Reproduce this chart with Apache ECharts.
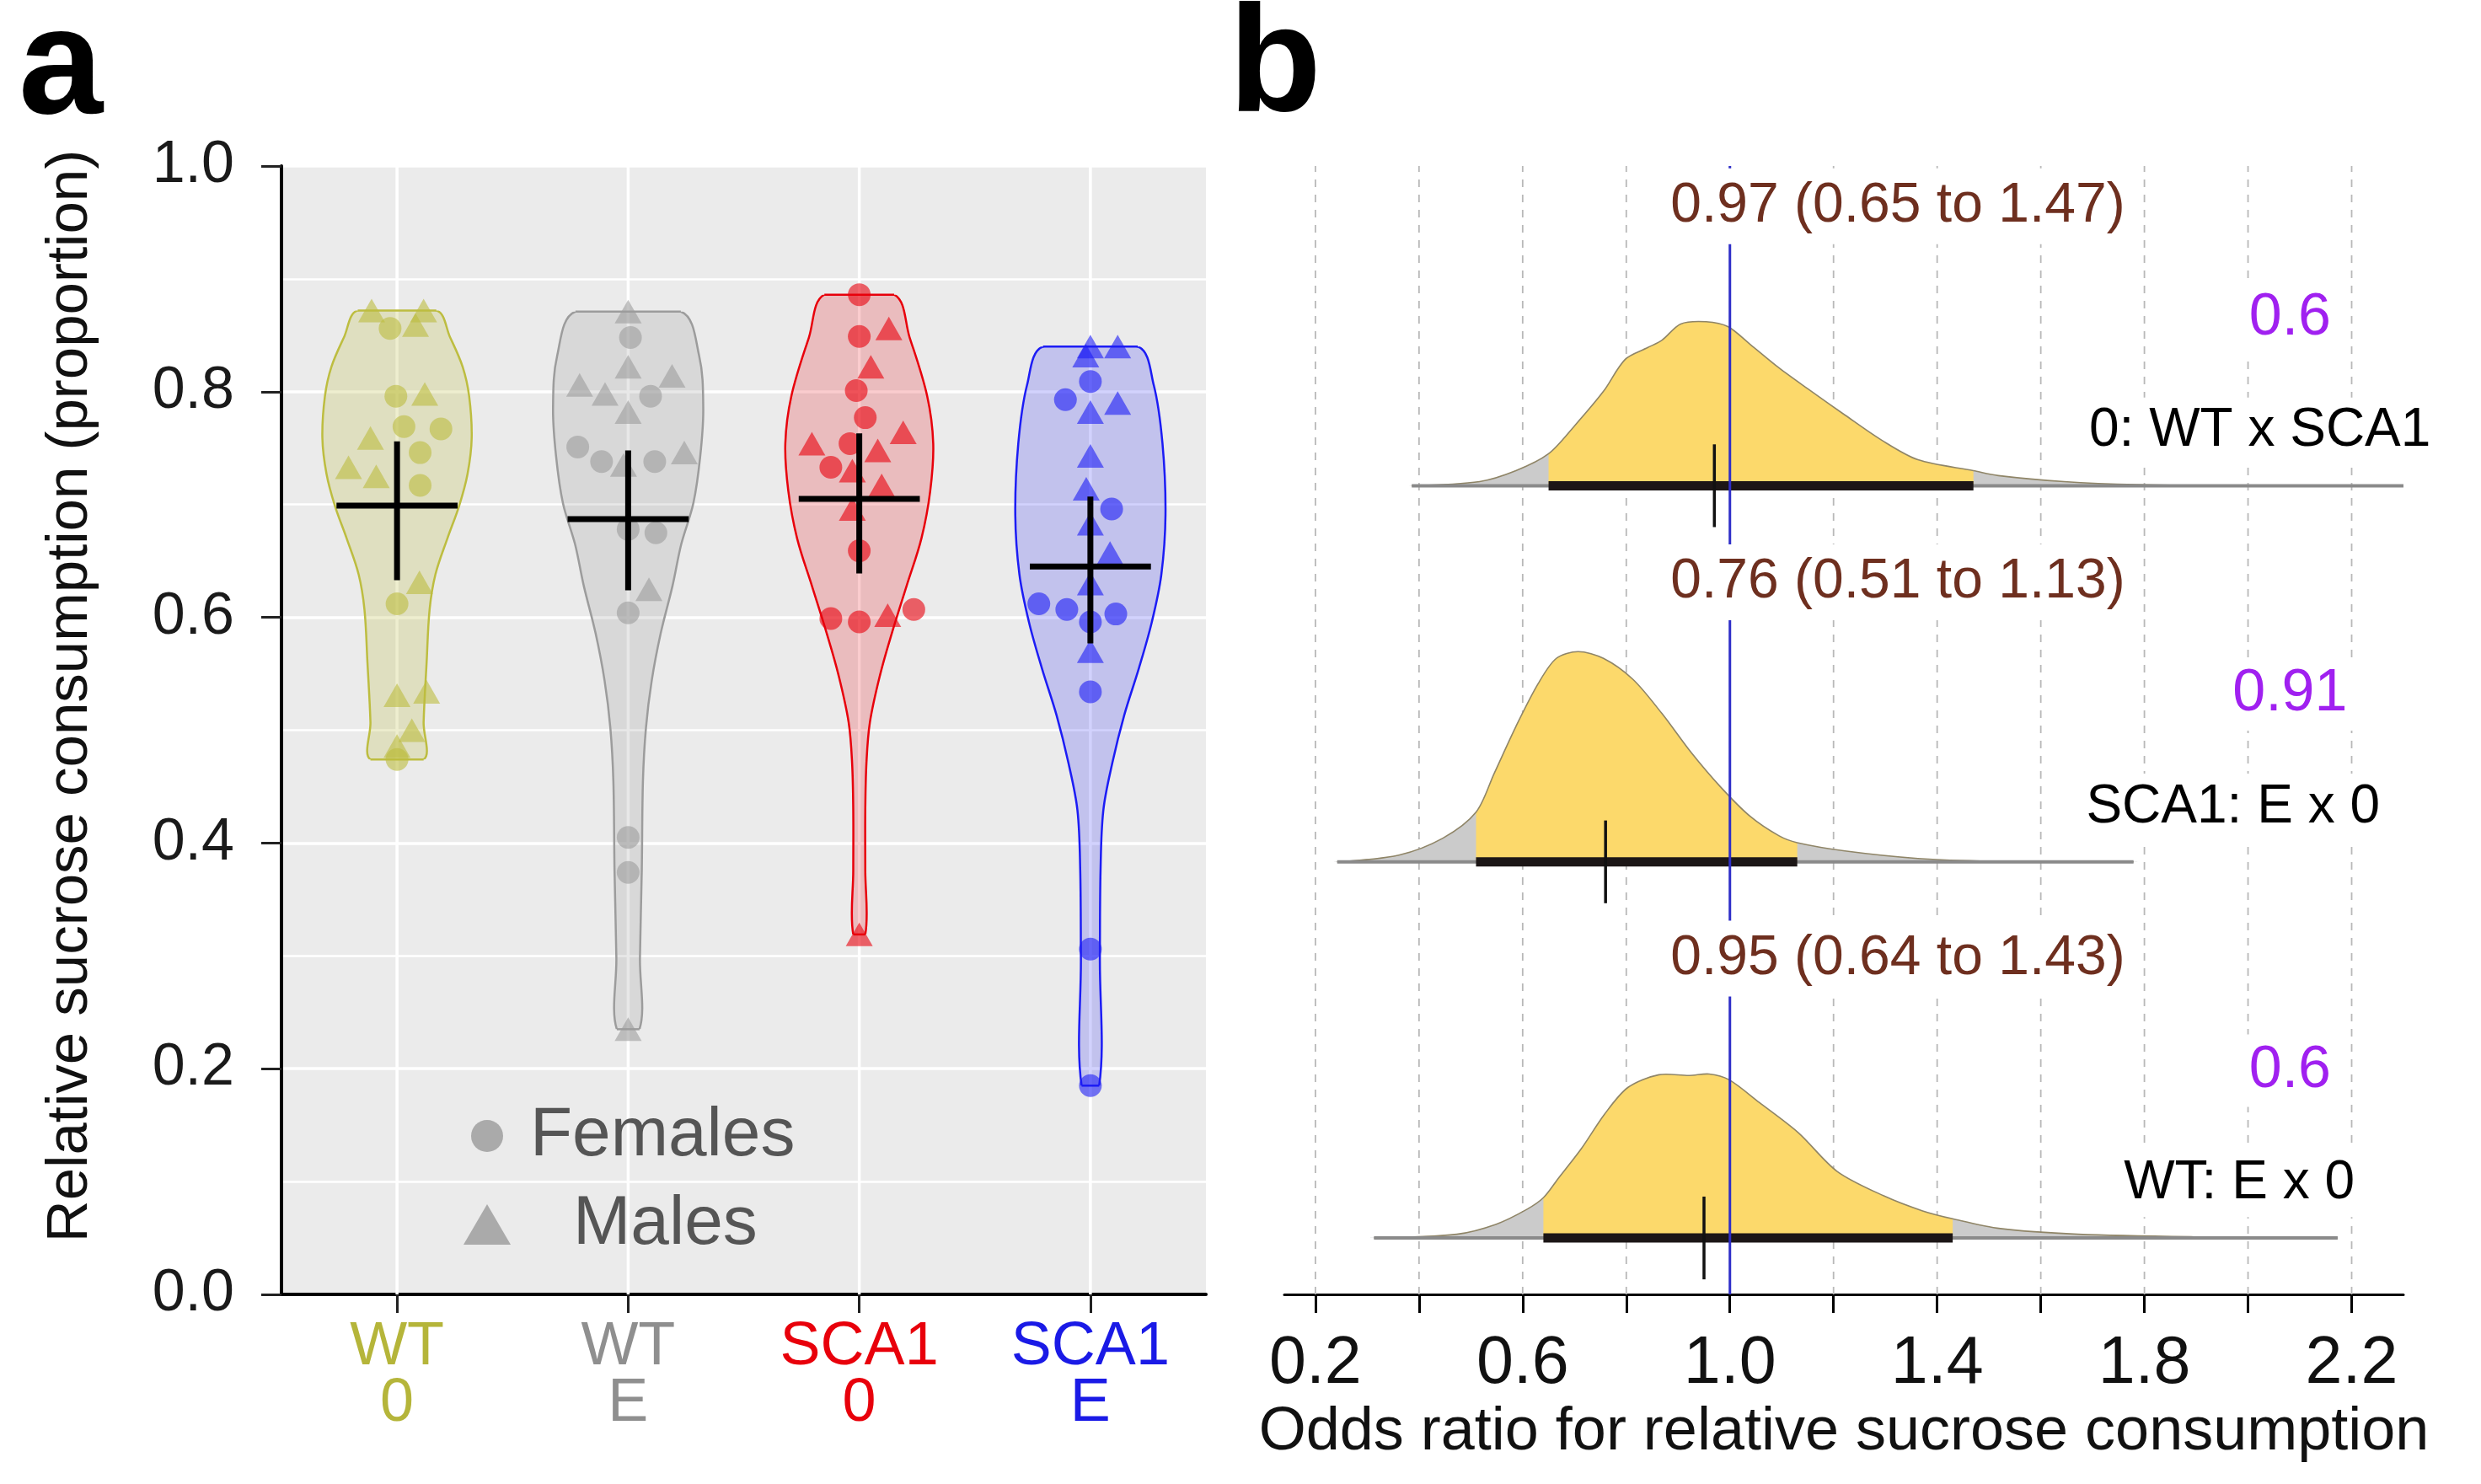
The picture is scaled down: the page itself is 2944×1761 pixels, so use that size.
<!DOCTYPE html>
<html><head><meta charset="utf-8">
<script src="https://cdn.jsdelivr.net/npm/echarts@6/dist/echarts.min.js"></script>
<style>html,body{margin:0;padding:0;background:#fff}#c{width:2944px;height:1761px}</style>
</head><body><div id="c"></div>
<script>
// ================= Panel a data =================
const groupGenotype = ['WT', 'WT', 'SCA1', 'SCA1'];
const groupTreatment = ['0', 'E', '0', 'E'];

const wt0Values = [0.872, 0.872, 0.856, 0.859, 0.796, 0.798, 0.769, 0.767, 0.759, 0.746, 0.733, 0.725, 0.717, 0.631, 0.612, 0.531, 0.534, 0.500, 0.486, 0.474];
const wt0Sex    = ['M','M','F','M','F','M','F','F','M','F','M','M','F','M','F','M','M','M','M','F'];
const wt0Jitter = [-0.11, 0.115, -0.03, 0.08, -0.005, 0.12, 0.03, 0.19, -0.115, 0.10, -0.21, -0.09, 0.10, 0.097, 0, 0, 0.128, 0.064, 0, 0];

const wtEValues = [0.871, 0.848, 0.822, 0.806, 0.798, 0.814, 0.796, 0.782, 0.751, 0.738, 0.735, 0.738, 0.746, 0.678, 0.675, 0.625, 0.604, 0.405, 0.374, 0.235];
const wtESex    = ['M','F','M','M','M','M','F','M','F','F','M','F','M','F','F','M','F','F','F','M'];
const wtEJitter = [0, 0.01, 0, -0.21, -0.10, 0.19, 0.097, 0, -0.218, -0.115, -0.02, 0.115, 0.243, 0, 0.12, 0.09, 0, 0, 0, 0];

const sca0Values = [0.886, 0.849, 0.856, 0.822, 0.801, 0.777, 0.754, 0.754, 0.764, 0.748, 0.733, 0.730, 0.717, 0.696, 0.659, 0.599, 0.596, 0.602, 0.607, 0.319];
const sca0Sex    = ['F','F','M','M','F','F','M','F','M','M','F','M','M','M','F','F','F','M','F','M'];
const sca0Jitter = [0, 0, 0.128, 0.05, -0.013, 0.026, -0.205, -0.04, 0.19, 0.08, -0.123, -0.03, 0.097, -0.03, 0, -0.123, 0, 0.123, 0.236, 0];

const scaEValues = [0.840, 0.840, 0.832, 0.809, 0.793, 0.790, 0.782, 0.743, 0.714, 0.696, 0.683, 0.657, 0.630, 0.612, 0.607, 0.603, 0.596, 0.570, 0.534, 0.306, 0.185];
const scaESex    = ['M','M','M','F','F','M','M','M','M','F','M','M','M','F','F','F','F','M','F','F','F'];
const scaEJitter = [0, 0.118, -0.02, 0, -0.108, 0.118, 0, 0, -0.018, 0.092, 0, 0.085, 0, -0.223, -0.102, 0.11, 0, 0, 0, 0, 0];

const groupMeans = [0.699, 0.687, 0.705, 0.645];
const groupLower = [0.633, 0.624, 0.639, 0.577];
const groupUpper = [0.756, 0.748, 0.763, 0.707];

// violin outlines: value level and half-width (category units)
const wt0ViolinY = [0.872, 0.848, 0.822, 0.796, 0.759, 0.727, 0.699, 0.670, 0.638, 0.607, 0.560, 0.507, 0.474];
const wt0ViolinW = [0.170, 0.230, 0.284, 0.312, 0.323, 0.305, 0.269, 0.218, 0.166, 0.141, 0.128, 0.115, 0.115];
const wtEViolinY = [0.871, 0.832, 0.785, 0.743, 0.701, 0.665, 0.628, 0.586, 0.544, 0.502, 0.455, 0.376, 0.298, 0.235];
const wtEViolinW = [0.228, 0.307, 0.325, 0.312, 0.282, 0.230, 0.192, 0.141, 0.102, 0.077, 0.064, 0.059, 0.051, 0.049];
const sca0ViolinY = [0.886, 0.848, 0.796, 0.754, 0.712, 0.670, 0.628, 0.586, 0.549, 0.507, 0.471, 0.429, 0.376, 0.319];
const sca0ViolinW = [0.151, 0.218, 0.294, 0.320, 0.307, 0.269, 0.205, 0.141, 0.090, 0.046, 0.031, 0.026, 0.026, 0.026];
const scaEViolinY = [0.840, 0.806, 0.754, 0.691, 0.638, 0.596, 0.555, 0.513, 0.471, 0.429, 0.376, 0.298, 0.185];
const scaEViolinW = [0.205, 0.274, 0.312, 0.325, 0.307, 0.266, 0.210, 0.146, 0.095, 0.056, 0.044, 0.041, 0.038];

// ================= Panel b data =================
const contrastNames = ['0: WT x SCA1', 'SCA1: E x 0', 'WT: E x 0'];
const orEstimate = [0.97, 0.76, 0.95];
const orLower = [0.65, 0.51, 0.64];
const orUpper = [1.47, 1.13, 1.43];
const probValues = ['0.6', '0.91', '0.6'];
const orReference = 1.0;

const dens1X = [0.386, 0.517, 0.587, 0.65, 0.70, 0.756, 0.798, 0.841, 0.869, 0.905, 0.954, 0.996, 1.039, 1.095, 1.151, 1.222, 1.293, 1.363, 1.47, 1.518, 1.645, 1.786, 1.997, 2.30];
const dens1H = [0, 0.011, 0.040, 0.085, 0.159, 0.251, 0.336, 0.367, 0.387, 0.430, 0.436, 0.423, 0.376, 0.313, 0.257, 0.188, 0.121, 0.069, 0.040, 0.027, 0.011, 0.003, 0, 0];
const dens2X = [0.242, 0.361, 0.446, 0.51, 0.545, 0.587, 0.63, 0.665, 0.707, 0.756, 0.813, 0.869, 0.925, 0.982, 1.039, 1.095, 1.13, 1.222, 1.363, 1.504, 1.779];
const dens2H = [0, 0.018, 0.063, 0.132, 0.235, 0.360, 0.474, 0.541, 0.559, 0.541, 0.485, 0.394, 0.291, 0.199, 0.121, 0.069, 0.051, 0.029, 0.009, 0.002, 0];
const dens3X = [0.313, 0.473, 0.548, 0.608, 0.64, 0.668, 0.713, 0.758, 0.803, 0.863, 0.922, 0.96, 0.998, 1.057, 1.132, 1.207, 1.297, 1.372, 1.43, 1.522, 1.672, 1.896, 2.173];
const dens3H = [0, 0.010, 0.036, 0.076, 0.107, 0.157, 0.237, 0.329, 0.400, 0.434, 0.432, 0.436, 0.421, 0.360, 0.280, 0.177, 0.112, 0.072, 0.051, 0.025, 0.010, 0.003, 0];

const orTicks = [0.2, 0.4, 0.6, 0.8, 1.0, 1.2, 1.4, 1.6, 1.8, 2.0, 2.2];
const orTickLabels = [0.2, 0.6, 1.0, 1.4, 1.8, 2.2];

// ================= build =================
const FONT = '"Liberation Sans", Arial, Helvetica, sans-serif';
const groupColors = ['#bdbd40', '#9c9c9c', '#e8000b', '#1c1cf5'];
const groupFills = ['rgba(189,189,64,0.25)', 'rgba(150,150,150,0.22)', 'rgba(232,0,11,0.2)', 'rgba(28,28,245,0.2)'];
const labelColors = ['#b5b53a', '#8f8f8f', '#e8000b', '#1a1ae6'];

const groupValues = [wt0Values, wtEValues, sca0Values, scaEValues];
const groupSex = [wt0Sex, wtESex, sca0Sex, scaESex];
const groupJitter = [wt0Jitter, wtEJitter, sca0Jitter, scaEJitter];
const violinYs = [wt0ViolinY, wtEViolinY, sca0ViolinY, scaEViolinY];
const violinWs = [wt0ViolinW, wtEViolinW, sca0ViolinW, scaEViolinW];
const densXs = [dens1X, dens2X, dens3X];
const densHs = [dens1H, dens2H, dens3H];

function pointsFor(sex) {
  const out = [];
  groupValues.forEach((vals, g) => vals.forEach((v, i) => {
    if (groupSex[g][i] === sex) {
      out.push({ value: [g + 1 + groupJitter[g][i], v], itemStyle: { color: groupColors[g], opacity: 0.6 } });
    }
  }));
  return out;
}

const categories = groupGenotype.map((g, i) => g + '\n' + groupTreatment[i]);
const rich = {};
labelColors.forEach((c, i) => { rich['g' + i] = { color: c, fontSize: 72, lineHeight: 67, fontFamily: FONT }; });

const rowBase = r => 2 - r;
const ROW_MIN = -0.15, ROW_MAX = 2.85;

const option = {
  animation: false,
  backgroundColor: '#ffffff',
  textStyle: { fontFamily: FONT },
  grid: [
    { left: 334, top: 197, width: 1097, height: 1339, show: true, backgroundColor: '#ebebeb', borderWidth: 0 },
    { left: 1524, top: 197, width: 1328, height: 1339, show: false }
  ],
  legend: [
    { data: [{ name: 'Females', icon: 'circle', itemStyle: { color: '#9a9a9a' } }], left: 559, top: 1307, padding: 0,
      itemWidth: 38, itemHeight: 38, selectedMode: false,
      textStyle: { fontSize: 82, color: '#555555', lineHeight: 82, fontFamily: FONT, padding: [0, 0, 0, 27] } },
    { data: [{ name: 'Males', icon: 'triangle', itemStyle: { color: '#9a9a9a' } }], left: 550, top: 1412, padding: 0,
      itemWidth: 56, itemHeight: 48, selectedMode: false,
      textStyle: { fontSize: 82, color: '#555555', lineHeight: 82, fontFamily: FONT, padding: [0, 0, 0, 69] } }
  ],
  xAxis: [
    { type: 'category', gridIndex: 0, data: categories, boundaryGap: true,
      axisLine: { show: true, lineStyle: { color: '#000', width: 4 } },
      axisTick: { show: true, alignWithLabel: true, length: 22, lineStyle: { color: '#222', width: 3 } },
      axisLabel: { margin: 30, formatter: (v, i) => `{g${i}|${groupGenotype[i]}}\n{g${i}|${groupTreatment[i]}}`, rich: rich },
      splitLine: { show: false } },
    { type: 'value', gridIndex: 0, min: 0.5, max: 4.5, show: false, splitLine: { show: false } },
    { type: 'value', gridIndex: 1, min: 0.14, max: 2.3,
      axisLine: { show: true, onZero: false, lineStyle: { color: '#000', width: 3 } },
      axisTick: { show: true, length: 22, customValues: orTicks, lineStyle: { color: '#000', width: 3 } },
      axisLabel: { customValues: orTickLabels, margin: 44, fontSize: 79, color: '#111', fontFamily: FONT, formatter: v => Number(v).toFixed(1) },
      splitLine: { show: false },
      name: 'Odds ratio for relative sucrose consumption', nameLocation: 'middle', nameGap: 120,
      nameTextStyle: { fontSize: 72, color: '#111', fontFamily: FONT } }
  ],
  yAxis: [
    { type: 'value', gridIndex: 0, min: 0, max: 1, interval: 0.2,
      axisLine: { show: true, lineStyle: { color: '#000', width: 4 } },
      axisTick: { show: true, length: 24, lineStyle: { color: '#222', width: 3 } },
      axisLabel: { margin: 56, fontSize: 70, color: '#1a1a1a', fontFamily: FONT, formatter: v => v.toFixed(1) },
      splitLine: { show: true, lineStyle: { color: '#ffffff', width: 3.5 } },
      minorTick: { show: false, splitNumber: 2 },
      minorSplitLine: { show: true, lineStyle: { color: '#ffffff', width: 2.5 } } },
    { type: 'value', gridIndex: 1, min: ROW_MIN, max: ROW_MAX, show: false, splitLine: { show: false } }
  ],
  graphic: [
    { type: 'text', left: 22, top: -6, style: { text: 'a', fontSize: 180, fontWeight: 'bold', fill: '#000', fontFamily: FONT } },
    { type: 'text', left: 1458, top: -8, style: { text: 'b', fontSize: 180, fontWeight: 'bold', fill: '#000', fontFamily: FONT } },
    { type: 'text', x: 84, y: 826, rotation: Math.PI / 2,
      style: { text: 'Relative sucrose consumption (proportion)', fontSize: 69, fill: '#111', fontFamily: FONT, align: 'center', verticalAlign: 'middle' } }
  ],
  series: [
    // vertical white grid lines at categories
    { type: 'custom', xAxisIndex: 1, yAxisIndex: 0, z: 1, silent: true,
      data: groupGenotype.map((_, i) => [i + 1, 0]),
      renderItem: (params, api) => {
        const x = api.value(0);
        const p1 = api.coord([x, 0]), p2 = api.coord([x, 1]);
        return { type: 'line', shape: { x1: p1[0], y1: p1[1], x2: p2[0], y2: p2[1] }, style: { stroke: '#ffffff', lineWidth: 3.5 } };
      } },
    // violins
    { type: 'custom', xAxisIndex: 1, yAxisIndex: 0, z: 2, silent: true,
      data: groupMeans.map((m, i) => [i + 1, m]),
      renderItem: (params, api) => {
        const g = params.dataIndex, cx = g + 1;
        const ys = violinYs[g], ws = violinWs[g];
        const n = ys.length;
        const pts = [];
        for (let i = 0; i < n; i++) pts.push(api.coord([cx + ws[i], ys[i]]));
        for (let i = n - 1; i >= 0; i--) pts.push(api.coord([cx - ws[i], ys[i]]));
        const tl = api.coord([cx - 0.5, ys[0]]), br = api.coord([cx + 0.5, ys[n - 1]]);
        const t1 = api.coord([cx - ws[0], ys[0]]), t2 = api.coord([cx + ws[0], ys[0]]);
        const b1 = api.coord([cx - ws[n - 1], ys[n - 1]]), b2 = api.coord([cx + ws[n - 1], ys[n - 1]]);
        const st = { stroke: groupColors[g], lineWidth: 2.5 };
        return { type: 'group', children: [
          { type: 'polygon', shape: { points: pts, smooth: 0.35 },
            style: { fill: groupFills[g], stroke: groupColors[g], lineWidth: 2.5 },
            clipPath: { type: 'rect', shape: { x: tl[0], y: tl[1], width: br[0] - tl[0], height: br[1] - tl[1] } } },
          { type: 'line', shape: { x1: t1[0], y1: t1[1], x2: t2[0], y2: t2[1] }, style: st },
          { type: 'line', shape: { x1: b1[0], y1: b1[1], x2: b2[0], y2: b2[1] }, style: st }
        ] };
      } },
    { name: 'Females', type: 'scatter', xAxisIndex: 1, yAxisIndex: 0, z: 3, symbol: 'circle', symbolSize: 27,
      itemStyle: { color: '#9a9a9a' }, data: pointsFor('F') },
    { name: 'Males', type: 'scatter', xAxisIndex: 1, yAxisIndex: 0, z: 3, symbol: 'triangle', symbolSize: [32, 28],
      itemStyle: { color: '#9a9a9a' }, data: pointsFor('M') },
    // mean crosses
    { type: 'custom', xAxisIndex: 1, yAxisIndex: 0, z: 4, silent: true,
      data: groupMeans.map((m, i) => [i + 1, m]),
      renderItem: (params, api) => {
        const g = params.dataIndex, cx = g + 1;
        const h1 = api.coord([cx - 0.262, groupMeans[g]]), h2 = api.coord([cx + 0.262, groupMeans[g]]);
        const v1 = api.coord([cx, groupLower[g]]), v2 = api.coord([cx, groupUpper[g]]);
        return { type: 'group', children: [
          { type: 'line', shape: { x1: h1[0], y1: h1[1], x2: h2[0], y2: h2[1] }, style: { stroke: '#000', lineWidth: 7 } },
          { type: 'line', shape: { x1: v1[0], y1: v1[1], x2: v2[0], y2: v2[1] }, style: { stroke: '#000', lineWidth: 7 } }
        ] };
      } },

    // ---------- panel b ----------
    { type: 'custom', xAxisIndex: 2, yAxisIndex: 1, z: 1, silent: true,
      data: orTicks.map(t => [t, 0]),
      renderItem: (params, api) => {
        const x = api.value(0);
        const p1 = api.coord([x, ROW_MIN]), p2 = api.coord([x, ROW_MAX]);
        return { type: 'line', shape: { x1: p1[0], y1: p1[1], x2: p2[0], y2: p2[1] }, style: { stroke: '#b8b8b8', lineWidth: 1.8, lineDash: [9, 9] } };
      } },
    { type: 'custom', xAxisIndex: 2, yAxisIndex: 1, z: 2, silent: true,
      data: contrastNames.map((n, r) => [orEstimate[r], rowBase(r)]),
      renderItem: (params, api) => {
        const r = params.dataIndex, base = rowBase(r);
        const xs = densXs[r], hs = densHs[r];
        const curve = xs.map((x, i) => api.coord([x, base + hs[i]]));
        const lo = api.coord([orLower[r], base + 0.7]), hi = api.coord([orUpper[r], base]);
        return { type: 'group', children: [
          { type: 'polygon', shape: { points: curve, smooth: 0.3 }, style: { fill: '#cbcbcb' } },
          { type: 'polygon', shape: { points: curve, smooth: 0.3 }, style: { fill: '#fcd96b' },
            clipPath: { type: 'rect', shape: { x: lo[0], y: lo[1], width: hi[0] - lo[0], height: hi[1] - lo[1] } } },
          { type: 'polyline', shape: { points: curve, smooth: 0.3 }, style: { fill: null, stroke: '#8f8567', lineWidth: 1.6 } }
        ] };
      } },
    { type: 'custom', xAxisIndex: 2, yAxisIndex: 1, z: 3, silent: true,
      data: contrastNames.map((n, r) => [orEstimate[r], rowBase(r)]),
      renderItem: (params, api) => {
        const r = params.dataIndex, base = rowBase(r);
        const xs = densXs[r];
        const b1 = api.coord([xs[0], base]), b2 = api.coord([xs[xs.length - 1], base]);
        const c1 = api.coord([orLower[r], base]), c2 = api.coord([orUpper[r], base]);
        const e1 = api.coord([orEstimate[r], base - 0.11]), e2 = api.coord([orEstimate[r], base + 0.11]);
        return { type: 'group', children: [
          { type: 'line', shape: { x1: b1[0], y1: b1[1], x2: b2[0], y2: b2[1] }, style: { stroke: '#8a8a8a', lineWidth: 4 } },
          { type: 'line', shape: { x1: c1[0], y1: c1[1], x2: c2[0], y2: c2[1] }, style: { stroke: '#1c1616', lineWidth: 11 } },
          { type: 'line', shape: { x1: e1[0], y1: e1[1], x2: e2[0], y2: e2[1] }, style: { stroke: '#111', lineWidth: 3.5 } }
        ] };
      } },
    { type: 'custom', xAxisIndex: 2, yAxisIndex: 1, z: 4, silent: true,
      data: [[orReference, 0]],
      renderItem: (params, api) => {
        const x = api.value(0);
        const p1 = api.coord([x, ROW_MIN]), p2 = api.coord([x, ROW_MAX]);
        return { type: 'line', shape: { x1: p1[0], y1: p1[1], x2: p2[0], y2: p2[1] }, style: { stroke: '#2e2ec8', lineWidth: 3 } };
      } },
    { type: 'custom', xAxisIndex: 2, yAxisIndex: 1, z: 6, silent: true,
      data: contrastNames.map((n, r) => [orEstimate[r], rowBase(r)]),
      renderItem: (params, api) => {
        const r = params.dataIndex, base = rowBase(r);
        const nameX = [2.023, 1.971, 1.983];
        const ci = api.coord([1.324, base + 0.743]);
        const pv = api.coord([2.081, base + 0.445]);
        const nm = api.coord([nameX[r], base + 0.145]);
        const ciText = orEstimate[r].toFixed(2) + ' (' + orLower[r].toFixed(2) + ' to ' + orUpper[r].toFixed(2) + ')';
        return { type: 'group', children: [
          { type: 'text', x: ci[0], y: ci[1], style: { text: ciText, fontSize: 66, fontFamily: FONT, fill: '#6e2f1f', align: 'center', verticalAlign: 'middle', backgroundColor: '#ffffff', padding: [12, 10] } },
          { type: 'text', x: pv[0], y: pv[1], style: { text: probValues[r], fontSize: 70, fontFamily: FONT, fill: '#a020f0', align: 'center', verticalAlign: 'middle', backgroundColor: '#ffffff', padding: [8, 8] } },
          { type: 'text', x: nm[0], y: nm[1], style: { text: contrastNames[r], fontSize: 64, fontFamily: FONT, fill: '#000', align: 'center', verticalAlign: 'middle', backgroundColor: '#ffffff', padding: [8, 8] } }
        ] };
      } }
  ]
};

const chart = echarts.init(document.getElementById('c'), null, { renderer: 'canvas', width: 2944, height: 1761 });
chart.setOption(option);
</script>
</body></html>
